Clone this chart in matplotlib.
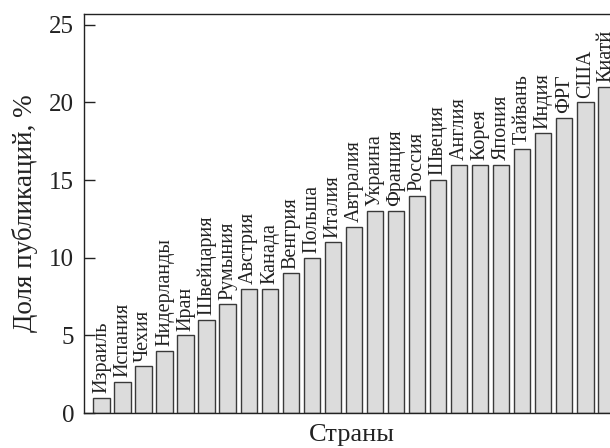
import matplotlib
matplotlib.use('Agg')
import matplotlib.pyplot as plt

# data
countries = ['Израиль', 'Испания', 'Чехия', 'Нидерланды', 'Иран', 'Швейцария',
             'Румыния', 'Австрия', 'Канада', 'Венгрия', 'Польша', 'Италия',
             'Автралия', 'Украина', 'Франция', 'Россия', 'Швеция', 'Англия',
             'Корея', 'Япония', 'Тайвань', 'Индия', 'ФРГ', 'США', 'Киатй']
shares = [1, 2, 3, 4, 5, 6, 7, 8, 8, 9, 10, 11, 12, 13, 13, 14, 15, 16, 16, 16,
          17, 18, 19, 20, 21]
yticks = [0, 5, 10, 15, 20, 25]

plt.rcParams['font.family'] = ['Liberation Serif', 'DejaVu Serif']

fig = plt.figure(figsize=(6.1, 4.48), dpi=100)
ax = fig.add_axes([0.1377, 0.078, 0.877, 0.891])

x = list(range(len(countries)))
ax.bar(x, shares, width=0.78, color='#dcdcdc', edgecolor='#3a3a3a', linewidth=1.0)
for xi, v, name in zip(x, shares, countries):
    ax.text(xi, v + 0.3, name, rotation=90, ha='center', va='bottom',
            fontsize=14.5, color='#222222')

ax.set_xlim(-0.83, 24.6)
ax.set_ylim(0, 25.7)
ax.set_xticks([])
ax.set_yticks(yticks)
ax.tick_params(axis='y', direction='in', length=8, width=1, labelsize=18,
               pad=7, colors='#222222')
ax.set_ylabel('Доля публикаций, %', fontsize=19.5, color='#222222', labelpad=8)
ax.set_xlabel('Страны', fontsize=19, color='#222222', labelpad=8)
for s in ax.spines.values():
    s.set_linewidth(1.0)
    s.set_color('#222222')

fig.savefig('out.png', dpi=100)
